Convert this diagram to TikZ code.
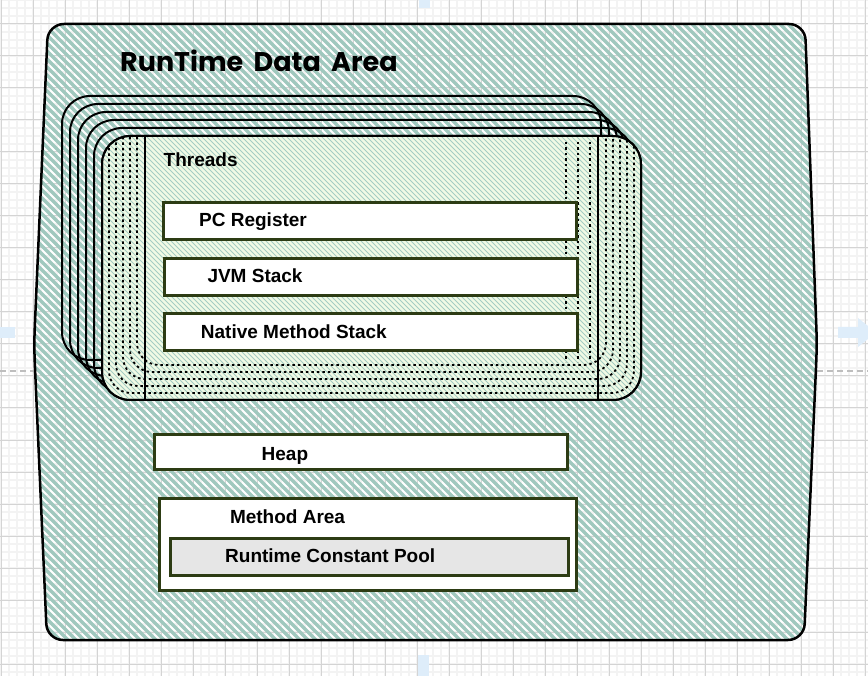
\documentclass[tikz,border=0pt]{standalone}
\usepackage{fontspec}
\setmainfont{Liberation Sans}
\newfontfamily\titlefont[WordSpace=1.8]{Poppins}
\definecolor{gridminor}{RGB}{243,243,243}
\definecolor{gridmajor}{RGB}{212,212,212}
\definecolor{teal}{RGB}{160,200,190}
\definecolor{tealthin}{RGB}{165,205,195}
\definecolor{palegreen}{RGB}{241,250,229}
\definecolor{boxline}{RGB}{45,60,20}
\definecolor{poolgray}{RGB}{230,230,230}
\definecolor{hintblue}{RGB}{222,237,250}
\definecolor{dashgray}{RGB}{190,190,190}
\begin{document}
\begin{tikzpicture}[x=1pt,y=-1pt,
  whitebox/.style={draw=boxline, line width=3pt, fill=white, inner sep=0pt},
  lbl/.style={anchor=base west, inner sep=0pt, font=\fontsize{19}{22}\selectfont\bfseries},
  backbox/.style={draw=black, line width=2pt, rounded corners=28pt},
  dashline/.style={draw=black, line width=1.8pt, dash pattern=on 2.5pt off 3pt}]
\useasboundingbox (0,0) rectangle (868,676);
\fill[white] (0,0) rectangle (868,676);
% grid
\foreach \g in {1,9,...,868} \draw[gridminor, line width=1.2pt] (\g,0) -- (\g,676);
\foreach \g in {0,8,...,676} \draw[gridminor, line width=1.2pt] (0,\g) -- (868,\g);
\foreach \g in {1,33,...,868} \draw[gridmajor, line width=1pt] (\g,0) -- (\g,676);
\foreach \g in {24,56,...,676} \draw[gridmajor, line width=1pt] (0,\g) -- (868,\g);
% hints
\fill[hintblue] (419,0) rectangle (430,8);
\fill[hintblue] (0,327) rectangle (15,338);
\fill[hintblue] (418,655) rectangle (429,676);
\fill[hintblue] (838,327) -- (858,327) -- (858,318) -- (868,326) -- (868,339) -- (858,347) -- (858,338) -- (838,338) -- cycle;
\draw[dashgray, line width=2pt, dash pattern=on 6pt off 4pt] (0,371) -- (35,371);
\draw[dashgray, line width=2pt, dash pattern=on 6pt off 4pt] (817,371) -- (868,371);
% outer runtime data area
\begin{scope}
\clip[rounded corners=16pt] (48,24) -- (805,24) -- (817,345) -- (804,640) -- (47,640) -- (34,345) -- cycle;
\foreach \i in {-700,-692,...,880} \draw[teal, line width=3.4pt] (\i,0) -- ++(700,700);
\end{scope}
\draw[black, line width=2.5pt, rounded corners=16pt] (48,24) -- (805,24) -- (817,345) -- (804,640) -- (47,640) -- (34,345) -- cycle;
\node[anchor=base west, inner sep=0pt, font=\titlefont\fontsize{27}{30}\selectfont\bfseries] (title) at (120,71.7) {RunTime Data Area};
% back thread boxes
\foreach \k in {5,4,3,2,1}
  \draw[backbox] ({102-8*\k},{136-8*\k}) rectangle ({641-8*\k},{400-8*\k});
% front thread box
\node[draw=black, line width=2pt, rounded corners=28pt, fill=palegreen, minimum width=539pt, minimum height=264pt, inner sep=0pt] (threads) at (371.5,268) {};
\begin{scope}
\clip[rounded corners=28pt] (102,136) rectangle (641,400);
\foreach \i in {-400,-395,...,650} \draw[tealthin, line width=0.9pt] (\i,130) -- ++(280,280);
\foreach \k in {1,...,5}
  \draw[dashline, rounded corners=22pt] ({102+7*\k},60) rectangle ({641-7*\k},{400-7*\k});
\foreach \xx in {566,578,590}
  \draw[dashline] (\xx,142) -- (\xx,362);
\end{scope}
\draw[black, line width=2pt, rounded corners=28pt] (102,136) rectangle (641,400);
\draw[black, line width=2pt] (145,136) -- (145,400);
\draw[black, line width=2pt] (598,136) -- (598,400);
\node[lbl] (threadslbl) at (163.5,166.7) {Threads};
% thread contents
\node[whitebox, minimum width=413pt, minimum height=37pt] (pc) at (370,221.5) {};
\node[lbl] (pclbl) at (199,226.7) {PC Register};
\node[whitebox, minimum width=413pt, minimum height=37pt] (jvm) at (370.5,277.5) {};
\node[lbl] (jvmlbl) at (207.3,282.7) {JVM Stack};
\node[whitebox, minimum width=413pt, minimum height=37pt] (nms) at (370.5,332.5) {};
\node[lbl] (nmslbl) at (200.7,338.3) {Native Method Stack};
% heap
\node[whitebox, minimum width=413pt, minimum height=35pt] (heap) at (361,452) {};
\node[lbl] (heaplbl) at (261.5,460) {Heap};
% method area
\node[whitebox, minimum width=417pt, minimum height=92pt] (method) at (368,544.5) {};
\node[lbl] (methodlbl) at (229.8,523.3) {Method Area};
\node[whitebox, fill=poolgray, minimum width=398pt, minimum height=37pt] (pool) at (369.5,556.5) {};
\node[lbl] (poollbl) at (225,562.7) {Runtime Constant Pool};
\end{tikzpicture}
\end{document}
